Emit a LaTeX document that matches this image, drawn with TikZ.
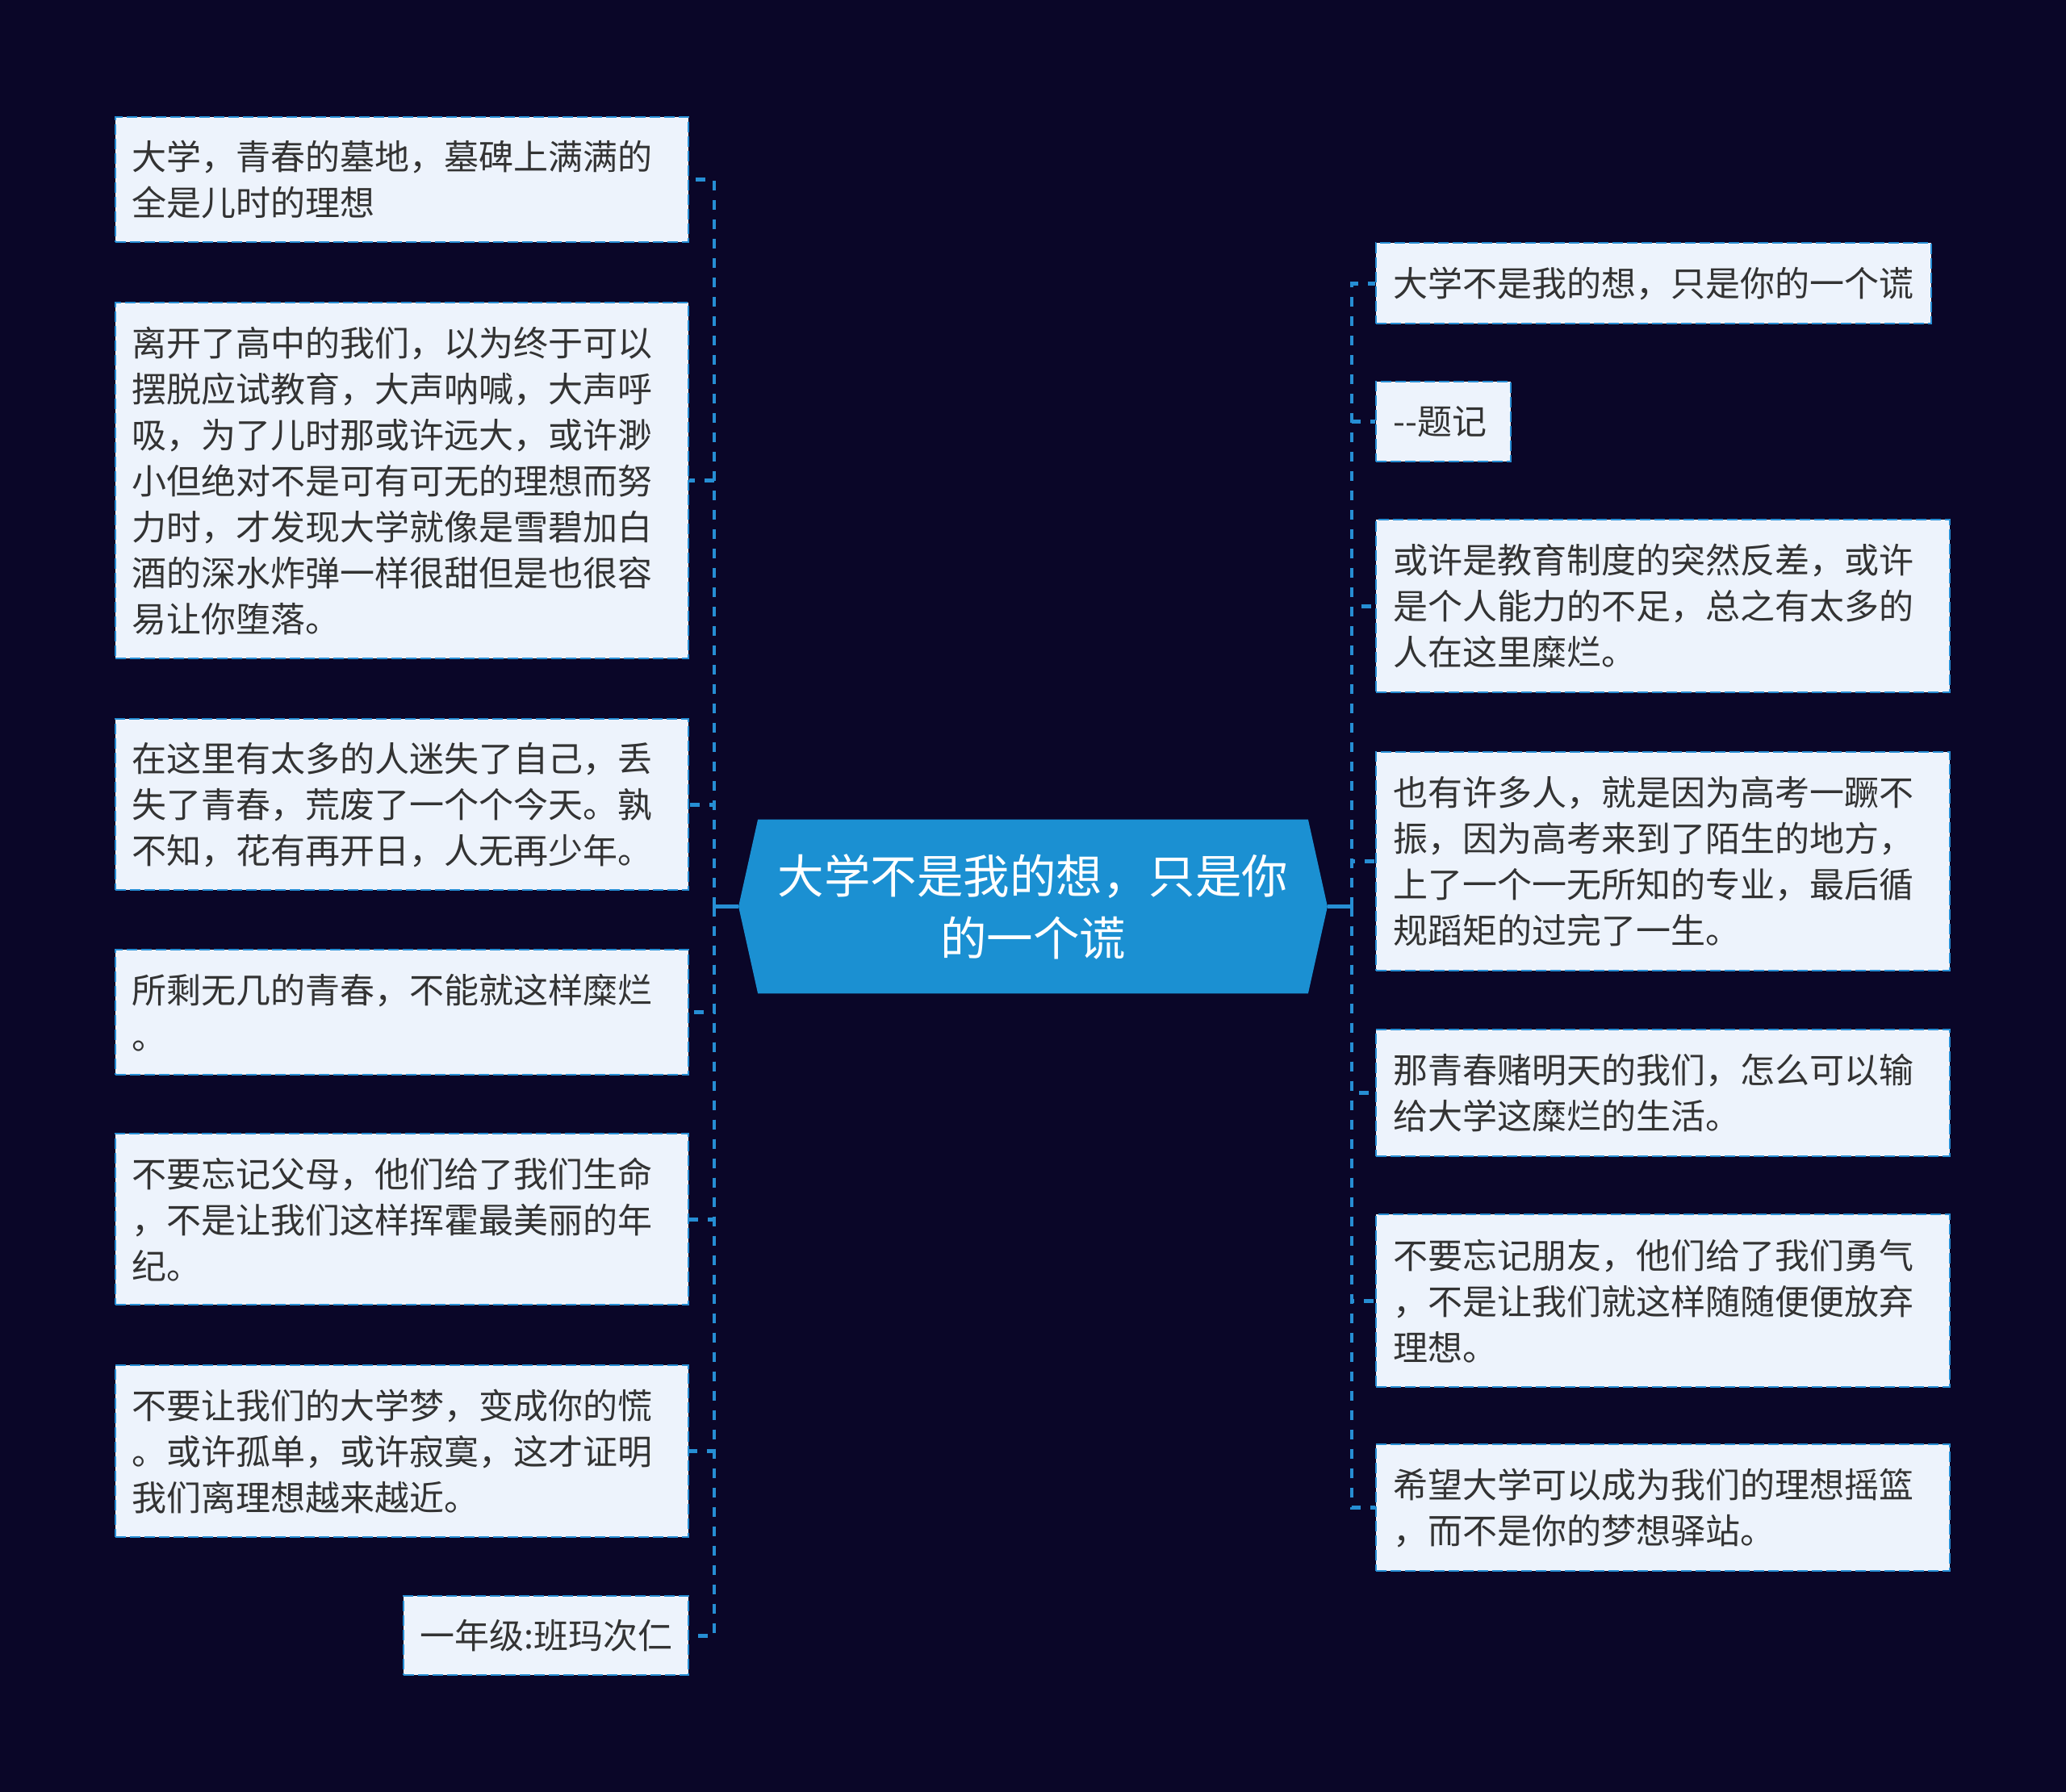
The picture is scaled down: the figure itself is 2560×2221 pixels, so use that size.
\documentclass[tikz,border=0pt]{standalone}
\usepackage{fontspec}
\newfontfamily\cjk{Noto Sans CJK SC}
\usetikzlibrary{backgrounds}
\definecolor{bgc}{RGB}{10,6,40}
\definecolor{nfill}{RGB}{237,243,252}
\definecolor{nline}{RGB}{38,142,212}
\definecolor{cfill}{RGB}{27,144,210}
\definecolor{tcol}{RGB}{51,51,51}
\tikzset{
  leaf/.style={draw=nline, fill=nfill, line width=1.2pt, dash pattern=on 6.5pt off 2.5pt,
    inner xsep=10.5pt, inner ysep=0pt, align=left, text=tcol,
    font=\cjk\fontsize{21.5pt}{28.5pt}\selectfont},
  leftleaf/.style={leaf, anchor=north east},
  rightleaf/.style={leaf, anchor=north west},
  conn/.style={draw=nline, line width=2.4pt, dash pattern=on 6pt off 6pt},
  stub/.style={draw=nline, line width=2.4pt},
  hub/.style={inner sep=0pt, minimum width=340.5pt, minimum height=107.5pt, align=center,
    text=white, font=\cjk\fontsize{28.75pt}{38.5pt}\selectfont}
}
\begin{document}
\begin{tikzpicture}[x=0.5pt,y=-0.5pt]
\useasboundingbox (0,0) rectangle (2560,2221);

% centre
\node[hub] (c) at (1280,1123.5) {大学不是我的想，只是你\\的一个谎};
\coordinate (cTL) at ([xshift=-12pt]c.west);
\coordinate (cTR) at ([xshift=12pt]c.east);

% left leaves
\node[leftleaf, text width=334pt, minimum height=77.5pt] (L1) at (854,144)
  {大学，青春的墓地，墓碑上满满的\\全是儿时的理想};
\node[leftleaf, text width=334pt, minimum height=220.5pt] (L2) at (854,374)
  {离开了高中的我们，以为终于可以\\摆脱应试教育，大声呐喊，大声呼\\吸，为了儿时那或许远大，或许渺\\小但绝对不是可有可无的理想而努\\力时，才发现大学就像是雪碧加白\\酒的深水炸弹一样很甜但是也很容\\易让你堕落。};
\node[leftleaf, text width=334pt, minimum height=106pt] (L3) at (854,890)
  {在这里有太多的人迷失了自己，丢\\失了青春，荒废了一个个今天。孰\\不知，花有再开日，人无再少年。};
\node[leftleaf, text width=334pt, minimum height=77.5pt] (L4) at (854,1176)
  {所剩无几的青春，不能就这样糜烂\\。};
\node[leftleaf, text width=334pt, minimum height=106pt] (L5) at (854,1404)
  {不要忘记父母，他们给了我们生命\\，不是让我们这样挥霍最美丽的年\\纪。};
\node[leftleaf, text width=334pt, minimum height=106.5pt] (L6) at (854,1691)
  {不要让我们的大学梦，变成你的慌\\。或许孤单，或许寂寞，这才证明\\我们离理想越来越近。};
\node[leftleaf, text width=155.5pt, minimum height=49pt] (L7) at (854,1977)
  {一年级:班玛次仁};

% right leaves
\node[rightleaf, text width=323pt, minimum height=50pt] (R1) at (1704,300)
  {大学不是我的想，只是你的一个谎};
\node[rightleaf, text width=62.5pt, minimum height=49.5pt] (R2) at (1704,472)
  {-{}-题记};
\node[rightleaf, text width=334.5pt, minimum height=107pt] (R3) at (1704,643)
  {或许是教育制度的突然反差，或许\\是个人能力的不足，总之有太多的\\人在这里糜烂。};
\node[rightleaf, text width=334.5pt, minimum height=135.5pt] (R4) at (1704,931)
  {也有许多人，就是因为高考一蹶不\\振，因为高考来到了陌生的地方，\\上了一个一无所知的专业，最后循\\规蹈矩的过完了一生。};
\node[rightleaf, text width=334.5pt, minimum height=78.5pt] (R5) at (1704,1275)
  {那青春赌明天的我们，怎么可以输\\给大学这糜烂的生活。};
\node[rightleaf, text width=334.5pt, minimum height=107pt] (R6) at (1704,1504)
  {不要忘记朋友，他们给了我们勇气\\，不是让我们就这样随随便便放弃\\理想。};
\node[rightleaf, text width=334.5pt, minimum height=78.5pt] (R7) at (1704,1789)
  {希望大学可以成为我们的理想摇篮\\，而不是你的梦想驿站。};

% trunks
\coordinate (cL) at (885,1123.5);
\coordinate (cR) at (1675,1123.5);
\draw[stub] (cTL) -- (cL);
\draw[stub] (cTR) -- (cR);
\foreach \n in {L1,L2,L3,L4,L5,L6,L7} \draw[conn] (cL) |- (\n.east);
\foreach \n in {R1,R2,R3,R4,R5,R6,R7} \draw[conn] (cR) |- (\n.west);

\begin{pgfonlayer}{background}
  \fill[bgc] (0,0) rectangle (2560,2221);
  \fill[cfill] (c.north west) -- (c.north east) -- (cTR) -- (c.south east)
    -- (c.south west) -- (cTL) -- cycle;
\end{pgfonlayer}
\end{tikzpicture}
\end{document}
